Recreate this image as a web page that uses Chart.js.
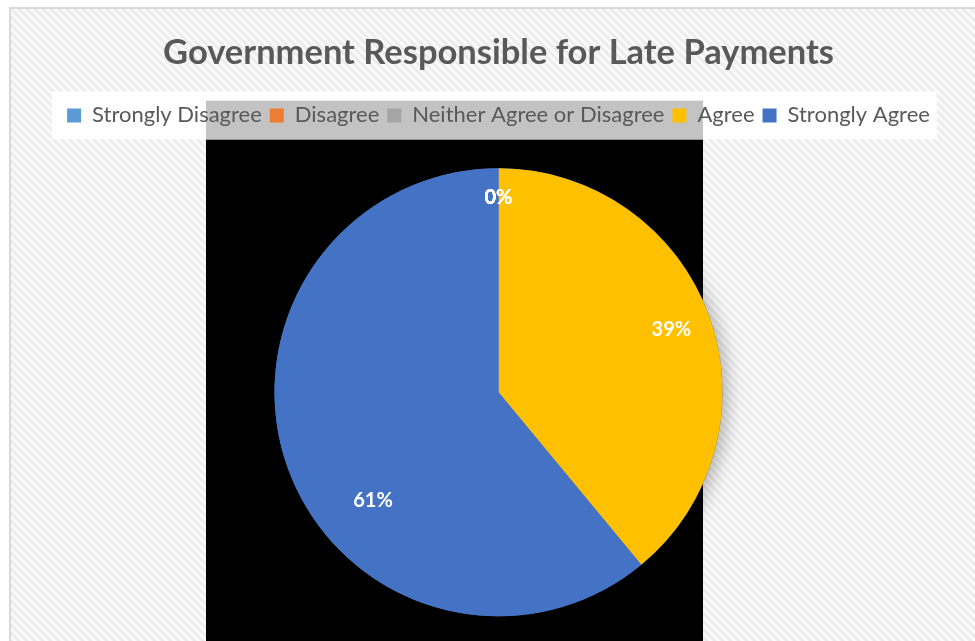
<!DOCTYPE html>
<html>
<head>
<meta charset="utf-8">
<title>Government Responsible for Late Payments</title>
<script src="https://cdn.jsdelivr.net/npm/chart.js@4.4.1/dist/chart.umd.min.js"></script>
<style>
html, body { margin: 0; padding: 0; background: #fff; overflow: hidden; }
#frame { position: absolute; left: 9px; top: 7px; width: 1000px; height: 700px;
         border-left: 2px solid #d9d9d9; border-top: 2px solid #d9d9d9; }
#wrap { position: absolute; left: 0; top: 0; width: 975px; height: 680px; }
</style>
</head>
<body>
<div id="frame"><div id="wrap"><canvas id="pieChart"></canvas></div></div>
<script>
var categories = ['Strongly Disagree', 'Disagree', 'Neither Agree or Disagree', 'Agree', 'Strongly Agree'];
var responses = [0, 0, 0, 39, 61];
var sliceColours = ['#5b9bd5', '#ed7d31', '#a5a5a5', '#ffc000', '#4472c4'];

// label position inside each slice: fraction of radius, extra angle in degrees
var labelPlace = [
    {r: 0.87, shift: 0},
    {r: 0.87, shift: 0},
    {r: 0.87, shift: 0},
    {r: 0.82, shift: 0},
    {r: 0.74, shift: -21}
];

function makeHatch() {
    var c = document.createElement('canvas');
    c.width = 8; c.height = 8;
    var g = c.getContext('2d');
    g.fillStyle = '#fbfbfb';
    g.fillRect(0, 0, 8, 8);
    g.strokeStyle = '#ececec';
    g.lineWidth = 3;
    g.beginPath();
    g.moveTo(-2, -2); g.lineTo(10, 10);
    g.moveTo(-2, 6); g.lineTo(2, 10);
    g.moveTo(6, -2); g.lineTo(10, 2);
    g.stroke();
    return g.createPattern(c, 'repeat');
}

// hatched chart background, white legend box and the dark panel behind the pie
var backdrop = {
    id: 'backdrop',
    beforeDraw: function (chart) {
        var ctx = chart.ctx;
        ctx.save();
        ctx.fillStyle = makeHatch();
        ctx.fillRect(0, 0, chart.width, chart.height);

        var boxes = chart.legend.legendHitBoxes;
        var l = Infinity, r = -Infinity, t = Infinity, b = -Infinity;
        boxes.forEach(function (hb) {
            l = Math.min(l, hb.left); r = Math.max(r, hb.left + hb.width);
            t = Math.min(t, hb.top); b = Math.max(b, hb.top + hb.height);
        });
        ctx.fillStyle = 'rgba(255,255,255,0.92)';
        ctx.fillRect(l - 15, t - 13, r - l + 22, b - t + 26);

        var arc = chart.getDatasetMeta(0).data[4];
        var cx = arc.x, cy = arc.y;
        ctx.fillStyle = '#c3c3c3';
        ctx.fillRect(cx - 292.5, cy - 291.5, 497, 39);
        ctx.fillStyle = '#000';
        ctx.fillRect(cx - 292.5, cy - 252.5, 497, chart.height);
        ctx.restore();
    },
    beforeDatasetsDraw: function (chart) {
        var arc = chart.getDatasetMeta(0).data[4];
        var ctx = chart.ctx;
        ctx.save();
        ctx.shadowColor = 'rgba(0,0,0,0.28)';
        ctx.shadowBlur = 18;
        ctx.shadowOffsetX = 5;
        ctx.shadowOffsetY = 3;
        ctx.fillStyle = '#4472c4';
        ctx.beginPath();
        ctx.arc(arc.x, arc.y, arc.outerRadius, 0, Math.PI * 2);
        ctx.fill();
        ctx.restore();
    }
};

// percentage labels on the slices
var sliceLabels = {
    id: 'sliceLabels',
    afterDatasetsDraw: function (chart) {
        var ctx = chart.ctx;
        var values = chart.data.datasets[0].data;
        var total = values.reduce(function (a, v) { return a + v; }, 0);
        ctx.save();
        ctx.fillStyle = '#ffffff';
        ctx.font = 'bold 20px Lato';
        ctx.textAlign = 'center';
        ctx.textBaseline = 'middle';
        chart.getDatasetMeta(0).data.forEach(function (arc, i) {
            var p = labelPlace[i];
            var mid = (arc.startAngle + arc.endAngle) / 2 + p.shift * Math.PI / 180;
            var x = arc.x + Math.cos(mid) * arc.outerRadius * p.r;
            var y = arc.y + Math.sin(mid) * arc.outerRadius * p.r;
            ctx.fillText(Math.round(values[i] / total * 100) + '%', x, y);
        });
        ctx.restore();
    }
};

var pie = document.getElementById('pieChart').getContext('2d');
var pieChart = new Chart(pie, {
    type: 'pie',
    data: {
        labels: categories,
        datasets: [{
            data: responses,
            backgroundColor: sliceColours,
            borderWidth: 0,
            radius: 224
        }]
    },
    options: {
        responsive: true,
        maintainAspectRatio: false,
        animation: false,
        layout: { padding: { top: 0, bottom: 41, left: 0, right: 0 } },
        plugins: {
            title: {
                display: true,
                text: 'Government Responsible for Late Payments',
                color: '#595959',
                font: { family: 'Lato', size: 34.5, weight: 'bold' },
                padding: { top: 23, bottom: 23 }
            },
            legend: {
                position: 'top',
                labels: {
                    color: '#595959',
                    font: { family: 'Lato', size: 22 },
                    boxWidth: 14,
                    boxHeight: 14,
                    padding: 8
                }
            },
            tooltip: { enabled: false }
        }
    },
    plugins: [backdrop, sliceLabels]
});
</script>
</body>
</html>
